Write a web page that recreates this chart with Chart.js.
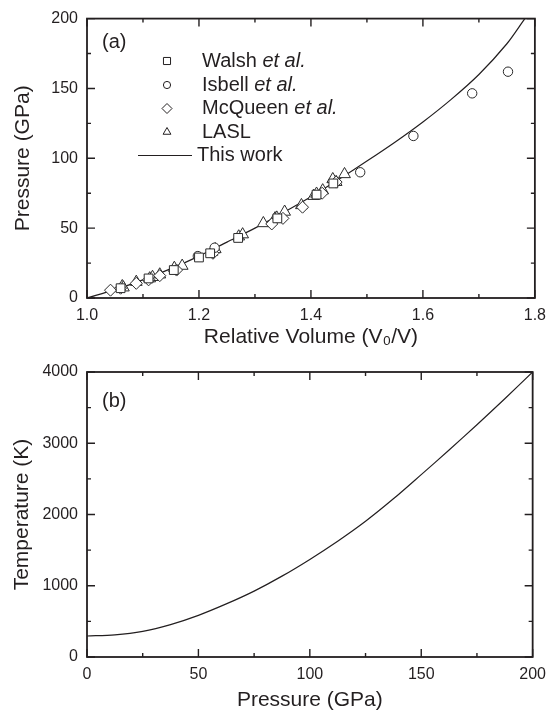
<!DOCTYPE html>
<html>
<head>
<meta charset="utf-8">
<script src="https://cdn.jsdelivr.net/npm/chart.js@4.4.0/dist/chart.umd.min.js"></script>
<style>
  body { margin: 0; background: #fff; }
  canvas { position: absolute; left: 0; }
</style>
</head>
<body>
<canvas id="eosChart" width="554" height="350" style="top:0px"></canvas>
<canvas id="tempChart" width="554" height="364" style="top:350px"></canvas>
<script>
// (a) Hugoniot: pressure vs relative volume
const curveVolume = [1.0, 1.05, 1.1, 1.15, 1.2, 1.25, 1.3, 1.35, 1.4, 1.45, 1.5, 1.55, 1.6, 1.65, 1.7, 1.75, 1.782];
const curvePressure = [0, 6, 13, 21, 30, 40, 50, 61, 72.5, 85, 98, 111.5, 126, 142, 160, 182, 200];

const walshVolume = [1.06, 1.11, 1.155, 1.2, 1.22, 1.27, 1.34, 1.41, 1.44];
const walshPressure = [7, 14, 20, 29, 32, 43, 57, 74, 82];

const isbellVolume = [1.198, 1.228, 1.488, 1.583, 1.688, 1.752];
const isbellPressure = [30, 36, 90, 116, 146.5, 162];

const mcqueenVolume = [1.042, 1.06, 1.088, 1.11, 1.13, 1.16, 1.225, 1.33, 1.35, 1.385, 1.42, 1.445];
const mcqueenPressure = [5.6, 7, 10.5, 13, 16, 20, 32, 53, 57, 65, 75, 83];

const laslVolume = [1.063, 1.065, 1.088, 1.112, 1.117, 1.13, 1.156, 1.17, 1.223, 1.229, 1.271, 1.278,
                    1.315, 1.336, 1.339, 1.353, 1.383, 1.405, 1.41, 1.421, 1.439, 1.445, 1.46];
const laslPressure = [8.4, 7.5, 11.5, 14, 15, 16.8, 21.5, 23, 33, 34.9, 44, 45.5,
                      53.5, 57, 57.5, 61.7, 66.4, 73, 74.6, 77, 85, 83, 88.6];

// (b) temperature along the Hugoniot
const tempPressure = [0, 12.5, 25, 37.5, 50, 62.5, 75, 87.5, 100, 112.5, 125, 137.5, 150, 162.5, 175, 187.5, 200];
const tempKelvin = [295, 311, 360, 455, 585, 745, 925, 1135, 1370, 1625, 1905, 2220, 2560, 2905, 3260, 3625, 4000];

const legendNames = ["Walsh", "Isbell", "McQueen", "LASL", "This work"];
const legendItalic = [" et al.", " et al.", " et al.", "", ""];

const INK = "#231f20";
const FONT = "'Liberation Sans', Arial, Helvetica, sans-serif";

function toPoints(xs, ys) {
    return xs.map((v, i) => ({ x: v, y: ys[i] }));
}

// frame + inward ticks on all four sides, panel letter, legend
const framePlugin = {
    id: "framePlugin",
    afterDatasetsDraw(chart, args, opts) {
        const ctx = chart.ctx;
        const a = chart.chartArea;
        const sx = chart.scales.x, sy = chart.scales.y;
        ctx.save();
        ctx.strokeStyle = INK;
        ctx.lineWidth = 1.8;
        ctx.strokeRect(a.left, a.top, a.right - a.left, a.bottom - a.top);

        const xMajor = sx.ticks.map(t => t.value);
        const yMajor = sy.ticks.map(t => t.value);
        const mids = arr => arr.slice(1).map((v, i) => (v + arr[i]) / 2);

        ctx.lineWidth = 1.4;
        ctx.beginPath();
        [[xMajor, 8], [mids(xMajor), 4]].forEach(([vals, len]) => {
            vals.forEach(v => {
                const px = sx.getPixelForValue(v);
                ctx.moveTo(px, a.bottom); ctx.lineTo(px, a.bottom - len);
                ctx.moveTo(px, a.top); ctx.lineTo(px, a.top + len);
            });
        });
        [[yMajor, 8], [mids(yMajor), 4]].forEach(([vals, len]) => {
            vals.forEach(v => {
                const py = sy.getPixelForValue(v);
                ctx.moveTo(a.left, py); ctx.lineTo(a.left + len, py);
                ctx.moveTo(a.right, py); ctx.lineTo(a.right - len, py);
            });
        });
        ctx.stroke();

        ctx.fillStyle = INK;
        ctx.textBaseline = "middle";
        ctx.textAlign = "left";
        ctx.font = "20px " + FONT;
        ctx.fillText(opts.panel, a.left + 15, a.top + opts.panelDy);

        if (opts.legend) {
            const styles = ["rect", "circle", "rectRot", "triangle"];
            const radii = [5, 3.6, 5, 4.5];
            const rowY = [61, 85, 108.5, 132, 155.5];
            for (let i = 0; i < legendNames.length; i++) {
                let tx = 202;
                if (i < styles.length) {
                    ctx.fillStyle = "#ffffff";
                    ctx.strokeStyle = INK;
                    ctx.lineWidth = 1;
                    Chart.helpers.drawPoint(ctx, { pointStyle: styles[i], radius: radii[i], borderWidth: 1 }, 167, rowY[i]);
                } else {
                    ctx.strokeStyle = INK;
                    ctx.lineWidth = 1.2;
                    ctx.beginPath();
                    ctx.moveTo(138, rowY[i]); ctx.lineTo(192, rowY[i]);
                    ctx.stroke();
                    tx = 197;
                }
                ctx.fillStyle = INK;
                ctx.font = "20px " + FONT;
                ctx.fillText(legendNames[i], tx, rowY[i]);
                if (legendItalic[i]) {
                    const w = ctx.measureText(legendNames[i]).width;
                    ctx.font = "italic 20px " + FONT;
                    ctx.fillText(legendItalic[i], tx + w, rowY[i]);
                }
            }
        }
        ctx.restore();
    }
};

function axis(opts) {
    return {
        type: "linear",
        position: opts.position,
        min: opts.min,
        max: opts.max,
        grid: { display: false, drawTicks: false, tickLength: 0 },
        border: { display: false },
        ticks: {
            stepSize: opts.step,
            color: INK,
            padding: opts.pad,
            font: { family: FONT, size: 16 },
            callback: opts.fmt
        },
        title: {
            display: true,
            text: opts.title,
            color: INK,
            font: { family: FONT, size: 21 },
            padding: opts.titlePad
        },
        afterFit: opts.fit
    };
}

const markerBase = {
    backgroundColor: "#ffffff",
    borderColor: "#2a2a2a",
    borderWidth: 1,
    order: 1
};

new Chart(document.getElementById("eosChart"), {
    type: "scatter",
    data: {
        datasets: [
            Object.assign({ label: "Walsh et al.", data: toPoints(walshVolume, walshPressure), pointStyle: "rect", pointRadius: 6.2 }, markerBase),
            Object.assign({ label: "Isbell et al.", data: toPoints(isbellVolume, isbellPressure), pointStyle: "circle", pointRadius: 4.7 }, markerBase),
            Object.assign({ label: "McQueen et al.", data: toPoints(mcqueenVolume, mcqueenPressure), pointStyle: "rectRot", pointRadius: 6 }, markerBase),
            Object.assign({ label: "LASL", data: toPoints(laslVolume, laslPressure), pointStyle: "triangle", pointRadius: 6.8 }, markerBase),
            {
                label: "This work",
                data: toPoints(curveVolume, curvePressure),
                showLine: true,
                pointRadius: 0,
                borderColor: INK,
                borderWidth: 1.2,
                tension: 0.3,
                order: 10
            }
        ]
    },
    options: {
        responsive: false,
        animation: false,
        devicePixelRatio: 1,
        layout: { padding: { top: 13, right: 15, left: 0, bottom: 0 } },
        plugins: {
            legend: { display: false },
            tooltip: { enabled: false },
            framePlugin: { panel: "(a)", panelDy: 23.5, legend: true }
        },
        scales: {
            x: axis({ position: "bottom", min: 1.0, max: 1.8, step: 0.2, pad: 8, fmt: v => v.toFixed(1),
                      title: "Relative Volume (V\u2080/V)", titlePad: { top: 0, bottom: 0 },
                      fit: s => { s.height = 52; } }),
            y: axis({ position: "left", min: 0, max: 200, step: 50, pad: 9, fmt: v => String(v),
                      title: "Pressure (GPa)", titlePad: { top: 11, bottom: 0 },
                      fit: s => { s.width = 87; } })
        }
    },
    plugins: [framePlugin]
});

new Chart(document.getElementById("tempChart"), {
    type: "scatter",
    data: {
        datasets: [{
            label: "Temperature",
            data: toPoints(tempPressure, tempKelvin),
            showLine: true,
            pointRadius: 0,
            borderColor: INK,
            borderWidth: 1.2,
            tension: 0.3
        }]
    },
    options: {
        responsive: false,
        animation: false,
        devicePixelRatio: 1,
        layout: { padding: { top: 22, right: 14, left: 0, bottom: 0 } },
        plugins: {
            legend: { display: false },
            tooltip: { enabled: false },
            framePlugin: { panel: "(b)", panelDy: 29, legend: false }
        },
        scales: {
            x: axis({ position: "bottom", min: 0, max: 200, step: 50, pad: 8, fmt: v => String(v),
                      title: "Pressure (GPa)", titlePad: { top: 0, bottom: 1 },
                      fit: s => { s.height = 57; } }),
            y: axis({ position: "left", min: 0, max: 4000, step: 1000, pad: 9, fmt: v => String(v),
                      title: "Temperature (K)", titlePad: { top: 10, bottom: 0 },
                      fit: s => { s.width = 87; } })
        }
    },
    plugins: [framePlugin]
});
</script>
</body>
</html>
